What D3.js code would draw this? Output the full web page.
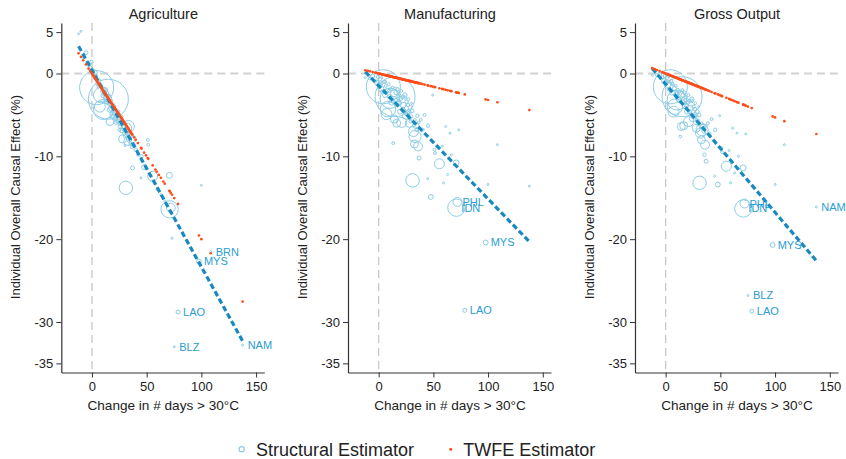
<!DOCTYPE html>
<html>
<head>
<meta charset="utf-8">
<script src="https://cdn.jsdelivr.net/npm/d3@7"></script>
<style>
  body { margin: 0; background: #fff; }
  svg { display: block; }
  text { font-family: "Liberation Sans", Arial, Helvetica, sans-serif; fill: #222; }
</style>
</head>
<body>
<svg id="chart" width="846" height="459"></svg>
<script>
// Country codes (only the ones that get a label are filled in)
const isoCodes = [
  "","","","","","","","","","","","","","","","","","","","",
  "","","","","","","","","","","","","","","","","","","","",
  "","","","","","","","","","","","","","","","","","","","",
  "","","","","","","","","","","","","","","","","","","","",
  "","","","","","","","","","","","","","","IDN","PHL","","BLZ","LAO","MYS",
  "","BRN","NAM"
];

// Change in number of days above 30°C
const daysOver30 = [
  -12.2,-10,-8,-5.5,-3,-1.5,-0.5,0.5,1.2,2,2.8,3,3.5,4.3,5,5.8,6,6.5,7.2,8,
  8.5,9.2,9.8,10,10.4,11,11.8,12,12.5,13,13.3,14,14.3,15,15.2,15.7,16,16.5,17.2,17.8,
  18,18.8,19,19.5,20.2,20.8,21,21.8,22,22.5,23.3,23.8,24,24.8,25,25.5,26.3,26.8,27,27.5,
  28,28.8,29,29.5,30.2,30.5,31,31.8,32.7,33,33.3,34.2,34.8,35.4,36,36.5,37,38.5,40,42,
  44.8,45.3,47.7,49.4,51,51.5,55.5,58,59.3,61.2,63,65.2,66.5,70.8,71,72,73.2,75.2,78.7,97.8,
  100,108.5,137.7
];

// Country weights (marker area)
const countryWeight = [
  1,1,2,4,2,6,3,5,3,9,2,1,4,290,3,6,2,2,30,4,
  60,2,3,5,100,3,7,2,2,4,2,12,16,400,2,4,5,16,3,2,
  9,2,3,6,4,2,25,3,4,8,2,3,5,12,2,3,6,3,2,5,
  16,4,2,3,1,4,45,25,16,2,36,9,3,3,20,2,4,2,3,2,
  1,3,6,1,2,2,25,1,1,1,1,1,1,9,75,20,1,1,4,6,
  1,1,1
];

// Structural estimator: individual overall causal effect (%)
const agriEffect = [
  4.8,5.1,2.0,2.5,1.2,0.6,1.4,0.3,-0.2,0.1,-0.6,-0.2,-0.3,-1.7,-0.9,-1.2,-1.6,-0.8,-4.0,-1.5,
  -2.6,-2.2,-2.7,-1.9,-4.35,-2.5,-2.0,-2.2,-3.1,-3.4,-2.7,-3.3,-3.0,-3.1,-2.6,-3.6,-4.4,-5.8,-3.8,-3.3,
  -4.2,-4.6,-5.1,-4.0,-4.9,-4.3,-5.0,-5.3,-5.9,-4.9,-5.8,-4.6,-5.3,-5.6,-6.8,-6.4,-6.0,-5.2,-5.5,-6.9,
  -7.9,-6.5,-6.0,-7.2,-8.7,-7.5,-13.8,-6.6,-8.2,-7.2,-6.4,-7.5,-8.0,-8.5,-7.9,-8.9,-11.4,-8.6,-9.2,-9.8,
  -12.6,-10.0,-11.3,-11.5,-8.0,-8.6,-12.4,-13.3,-14.0,-14.2,-14.6,-15.0,-15.4,-12.3,-16.4,-16.2,-19.9,-33.0,-28.8,-22.7,
  -13.5,-21.5,-32.8
];
const manufEffect = [
  -0.5,0.3,-0.6,-0.3,-0.9,-1.1,-0.4,-1.3,-0.7,-1.8,-1.2,-0.5,-2.2,-1.6,-1.0,-2.6,-1.0,-1.5,-4.9,-2.0,
  -4.3,-1.3,-2.1,-2.8,-3.0,-1.9,-3.5,-2.9,-1.7,-3.3,-8.4,-2.4,-5.5,-2.8,-1.8,-3.2,-2.3,-6.0,-1.9,-3.0,
  -3.6,-2.5,-3.5,-4.6,-3.0,-2.1,-5.9,-2.8,-4.3,-3.8,-4.4,-2.9,-2.6,-5.1,-4.9,-3.4,-4.8,-3.8,-3.1,-4.6,
  -6.0,-4.1,-5.8,-5.2,-3.6,-4.5,-12.9,-7.0,-8.5,-5.6,-7.6,-6.3,-6.8,-5.1,-8.8,-5.9,-10.2,-5.6,-6.8,-5.0,
  -12.7,-6.3,-14.9,-2.6,-9.2,-9.6,-10.9,-8.8,-13.2,-6.4,-12.2,-7.2,-9.8,-10.8,-16.2,-15.5,-6.8,null,-28.6,-20.4,
  -13.4,-8.6,-13.6
];
const grossEffect = [
  -0.2,0.4,-0.2,-0.1,-0.5,-0.9,-0.3,-1.0,-0.5,-1.4,-1.0,-0.4,-1.9,-1.6,-0.9,-2.3,-1.2,-1.3,-4.6,-1.8,
  -4.0,-1.5,-2.3,-2.5,-3.2,-2.0,-3.1,-2.7,-2.2,-3.3,-7.6,-2.6,-6.4,-2.8,-2.0,-3.4,-2.6,-6.3,-2.3,-3.2,
  -3.9,-2.9,-3.8,-4.6,-3.5,-2.6,-5.8,-3.3,-4.6,-4.2,-4.9,-3.3,-3.1,-5.4,-5.3,-4.0,-5.2,-4.3,-3.6,-5.0,
  -6.6,-4.6,-6.1,-5.7,-4.0,-5.0,-13.2,-7.2,-8.0,-6.0,-6.8,-6.5,-7.0,-9.8,-8.6,-6.3,-10.6,-6.0,-7.3,-5.5,
  -12.4,-6.8,-13.4,-5.1,-9.0,-9.5,-11.2,-9.3,-13.2,-6.6,-12.0,-7.2,-10.0,-11.4,-16.3,-15.7,-7.3,-26.8,-28.7,-20.7,
  -13.4,-8.6,-16.1
];

// TWFE estimator: effect (%) for each country
const agriTwfe = [
  2.44,2.0,1.6,1.1,0.6,0.3,0.1,-0.1,-0.24,-0.4,-0.56,-0.6,-0.7,-0.86,-1.0,-1.16,-1.2,-1.3,-1.44,-1.6,
  -1.7,-1.84,-1.96,-2.0,-2.08,-2.2,-2.36,-2.4,-2.5,-2.6,-2.66,-2.8,-2.86,-3.0,-3.04,-3.14,-3.2,-3.3,-3.44,-3.56,
  -3.6,-3.76,-3.8,-3.9,-4.04,-4.16,-4.2,-4.36,-4.4,-4.5,-4.66,-4.76,-4.8,-4.96,-5.0,-5.1,-5.26,-5.36,-5.4,-5.5,
  -5.6,-5.76,-5.8,-5.9,-6.04,-6.1,-6.2,-6.36,-6.54,-6.6,-6.66,-6.84,-6.96,-7.08,-7.2,-7.3,-7.4,-7.7,-8.0,-8.4,
  -8.96,-9.06,-9.54,-9.88,-10.2,-10.3,-11.1,-11.6,-11.86,-12.24,-12.6,-13.04,-13.3,-14.16,-14.2,-14.4,-14.64,-15.04,-15.74,-19.56,
  -20.0,-21.7,-27.54
];
const manufTwfe = [
  0.39,0.32,0.26,0.18,0.10,0.05,0.02,-0.02,-0.04,-0.06,-0.09,-0.10,-0.11,-0.14,-0.16,-0.19,-0.19,-0.21,-0.23,-0.26,
  -0.27,-0.29,-0.31,-0.32,-0.33,-0.35,-0.38,-0.38,-0.40,-0.42,-0.43,-0.45,-0.46,-0.48,-0.49,-0.50,-0.51,-0.53,-0.55,-0.57,
  -0.58,-0.60,-0.61,-0.62,-0.65,-0.67,-0.67,-0.70,-0.70,-0.72,-0.75,-0.76,-0.77,-0.79,-0.80,-0.82,-0.84,-0.86,-0.86,-0.88,
  -0.90,-0.92,-0.93,-0.94,-0.97,-0.98,-0.99,-1.02,-1.05,-1.06,-1.07,-1.09,-1.11,-1.13,-1.15,-1.17,-1.18,-1.23,-1.28,-1.34,
  -1.43,-1.45,-1.53,-1.58,-1.63,-1.65,-1.78,-1.86,-1.90,-1.96,-2.02,-2.09,-2.13,-2.27,-2.27,-2.30,-2.34,null,-2.52,-3.13,
  -3.20,-3.47,-4.41
];
const grossTwfe = [
  0.65,0.53,0.42,0.29,0.16,0.08,0.03,-0.03,-0.06,-0.11,-0.15,-0.16,-0.19,-0.23,-0.27,-0.31,-0.32,-0.34,-0.38,-0.42,
  -0.45,-0.49,-0.52,-0.53,-0.55,-0.58,-0.63,-0.64,-0.66,-0.69,-0.70,-0.74,-0.76,-0.80,-0.81,-0.83,-0.85,-0.87,-0.91,-0.94,
  -0.95,-1.00,-1.01,-1.03,-1.07,-1.10,-1.11,-1.16,-1.17,-1.19,-1.23,-1.26,-1.27,-1.31,-1.33,-1.35,-1.39,-1.42,-1.43,-1.46,
  -1.48,-1.53,-1.54,-1.56,-1.60,-1.62,-1.64,-1.69,-1.73,-1.75,-1.76,-1.81,-1.84,-1.88,-1.91,-1.93,-1.96,-2.04,-2.12,-2.23,
  -2.37,-2.40,-2.53,-2.62,-2.70,-2.73,-2.94,-3.07,-3.14,-3.24,-3.34,-3.46,-3.52,-3.75,-3.76,-3.82,-3.88,-3.99,-4.17,-5.18,
  -5.30,-5.75,-7.30
];

// Linear fit of the structural estimates (endpoints)
const fitDays = [-12.2, 137.7];
const agriFit = [3.3, -32.3];
const manufFit = [0.2, -20.3];
const grossFit = [0.6, -22.6];

// Countries labelled in each panel
const agriLabels = ["BRN", "MYS", "LAO", "BLZ", "NAM"];
const manufLabels = ["PHL", "IDN", "MYS", "LAO"];
const grossLabels = ["PHL", "IDN", "NAM", "MYS", "BLZ", "LAO"];

const panelTitles = ["Agriculture", "Manufacturing", "Gross Output"];
const yTicks = [5, 0, -10, -20, -30, -35];
const xTicks = [0, 50, 100, 150];

const panels = [
  { title: panelTitles[0], effect: agriEffect, twfe: agriTwfe, fit: agriFit, labels: agriLabels },
  { title: panelTitles[1], effect: manufEffect, twfe: manufTwfe, fit: manufFit, labels: manufLabels },
  { title: panelTitles[2], effect: grossEffect, twfe: grossTwfe, fit: grossFit, labels: grossLabels }
];

const structColor = "#8dcde4";
const labelColor = "#2b9dd0";
const fitColor = "#1789bf";
const twfeColor = "#ff4d1a";
const refColor = "#d2d2d2";

const svg = d3.select("#chart");
const panelLefts = [61.3, 348, 635];
const plotW = 203, plotTop = 23, plotBottom = 372.5;

const rScale = d3.scaleSqrt().domain([0, 400]).range([0, 20]);

panels.forEach((p, pi) => {
  const left = panelLefts[pi];
  const x = d3.scaleLinear().domain([-28, 157.5]).range([left, left + plotW]);
  const y = d3.scaleLinear().domain([6.1, -36.1]).range([plotTop, plotBottom]);
  const g = svg.append("g");

  // reference lines at zero
  g.append("line")
    .attr("x1", left).attr("x2", left + plotW)
    .attr("y1", y(0)).attr("y2", y(0))
    .attr("stroke", refColor).attr("stroke-width", 2)
    .attr("stroke-dasharray", "8,5");
  g.append("line")
    .attr("x1", x(0)).attr("x2", x(0))
    .attr("y1", plotTop).attr("y2", plotBottom)
    .attr("stroke", "#c8c8c8").attr("stroke-width", 1.3)
    .attr("stroke-dasharray", "8,5");

  const idx = d3.range(daysOver30.length);

  // structural estimates, sized by weight (largest drawn first)
  const structIdx = idx.filter(i => p.effect[i] !== null)
    .sort((a, b) => countryWeight[b] - countryWeight[a]);
  g.append("g").selectAll("circle").data(structIdx).join("circle")
    .attr("cx", i => x(daysOver30[i]))
    .attr("cy", i => y(p.effect[i]))
    .attr("r", i => rScale(countryWeight[i]))
    .attr("fill", "none")
    .attr("stroke", structColor)
    .attr("stroke-width", 1);

  // fitted line
  const fitLine = d3.line().x(d => x(d[0])).y(d => y(d[1]));
  g.append("path")
    .attr("d", fitLine(fitDays.map((d, k) => [d, p.fit[k]])))
    .attr("fill", "none")
    .attr("stroke", fitColor)
    .attr("stroke-width", 3.2)
    .attr("stroke-dasharray", "5.5,3");

  // TWFE estimates
  const twfeIdx = idx.filter(i => p.twfe[i] !== null);
  g.append("g").selectAll("circle").data(twfeIdx).join("circle")
    .attr("cx", i => x(daysOver30[i]))
    .attr("cy", i => y(p.twfe[i]))
    .attr("r", 1.35)
    .attr("fill", twfeColor);

  // country labels
  const labIdx = idx.filter(i => p.labels.includes(isoCodes[i]) && p.effect[i] !== null);
  g.append("g").selectAll("text").data(labIdx).join("text")
    .attr("x", i => x(daysOver30[i]) + 5)
    .attr("y", i => y(p.effect[i]))
    .attr("dy", "0.36em")
    .style("fill", labelColor)
    .style("font-size", "11px")
    .text(i => isoCodes[i]);

  // axes
  const yAxis = d3.axisLeft(y).tickValues(yTicks).tickSize(5).tickSizeOuter(0).tickPadding(3)
    .tickFormat(d => d < 0 ? "-" + Math.abs(d) : String(d));
  const ya = g.append("g").attr("transform", `translate(${left},0)`).call(yAxis);
  const xAxis = d3.axisBottom(x).tickValues(xTicks).tickSize(5).tickSizeOuter(0).tickPadding(4);
  const xa = g.append("g").attr("transform", `translate(0,${plotBottom})`).call(xAxis);
  [ya, xa].forEach(a => {
    a.select(".domain").attr("stroke", "#333").attr("stroke-width", 1.2);
    a.selectAll(".tick line").attr("stroke", "#333");
    a.selectAll(".tick text").style("font-size", "13px").style("fill", "#222")
      .style("font-family", "'Liberation Sans', Arial, sans-serif");
  });

  // titles
  g.append("text")
    .attr("x", left + 102).attr("y", 18.5)
    .attr("text-anchor", "middle")
    .style("font-size", "14.5px")
    .text(p.title);
  g.append("text")
    .attr("transform", `translate(${left - 46},197) rotate(-90)`)
    .attr("text-anchor", "middle")
    .attr("dy", "0.35em")
    .style("font-size", "13px")
    .text("Individual Overall Causal Effect (%)");
  g.append("text")
    .attr("x", left + 102).attr("y", 410)
    .attr("text-anchor", "middle")
    .style("font-size", "13.6px")
    .text("Change in # days > 30°C");
});

// legend
const legend = svg.append("g");
legend.append("circle").attr("cx", 241.7).attr("cy", 449.3).attr("r", 2.6)
  .attr("fill", "none").attr("stroke", structColor).attr("stroke-width", 1.2);
legend.append("text").attr("x", 256).attr("y", 456).style("font-size", "18px")
  .text("Structural Estimator");
legend.append("circle").attr("cx", 450.7).attr("cy", 449.3).attr("r", 1.5)
  .attr("fill", twfeColor);
legend.append("text").attr("x", 463.3).attr("y", 456).style("font-size", "18px")
  .text("TWFE Estimator");
</script>
</body>
</html>
